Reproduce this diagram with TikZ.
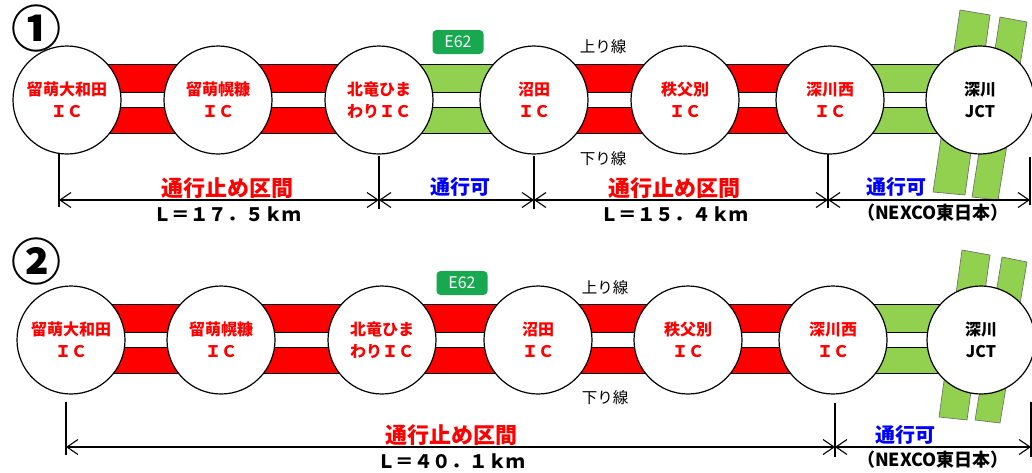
\documentclass[tikz,border=0pt]{standalone}
\usepackage{fontspec}
\setmainfont{Noto Sans CJK JP}
\usetikzlibrary{arrows.meta,calc}
\definecolor{roadred}{RGB}{255,0,0}
\definecolor{roadgreen}{RGB}{146,208,80}
\definecolor{badgegreen}{RGB}{24,168,80}
\definecolor{openblue}{RGB}{0,0,255}
\newcommand\roadband[3]{%
  \draw[line width=0.8pt,fill=#3] ($(#1)+(0,-36)$) rectangle ($(#2)+(0,33)$);
  \draw[line width=0.8pt,fill=white] ($(#1)+(0,-8)$) rectangle ($(#2)+(0,7)$);}
\tikzset{
  ic/.style={circle,draw=black,line width=1.2pt,fill=white,minimum size=108pt,inner sep=0pt,
    align=center,font=\bfseries\fontsize{16}{22}\selectfont,text=roadred},
  jct/.style={ic,text=black},
  jctroad/.style={fill=roadgreen,draw=black!60,line width=0.6pt},
  tickline/.style={line width=1.6pt},
  dimline/.style={line width=1.1pt,{Straight Barb[length=11pt,width=15pt]}-{Straight Barb[length=11pt,width=15pt]}},
  closedlbl/.style={text=roadred,font=\bfseries\fontsize{22}{22}\selectfont,inner sep=0pt},
  openlbl/.style={text=openblue,font=\bfseries\fontsize{20}{20}\selectfont,inner sep=0pt},
  lenlbl/.style={font=\bfseries\fontsize{18.5}{19}\selectfont,inner sep=0pt},
  neximg/.style={font=\bfseries\fontsize{18}{19}\selectfont,inner sep=0pt},
  dirlbl/.style={font=\fontsize{15.5}{16}\selectfont,inner sep=0pt},
  numlbl/.style={font=\bfseries\fontsize{50}{50}\selectfont,inner sep=0pt},
  badgebox/.style={fill=badgegreen,rounded corners=4pt,text=white,font=\fontsize{16}{16}\selectfont,
    minimum width=51pt,minimum height=24pt,inner sep=0pt},
}
\begin{document}
\begin{tikzpicture}[x=1pt,y=-1pt]
\useasboundingbox (0,0) rectangle (1032,472);
% ================= Panel 1 =================
\node[numlbl] (num1) at (36,28) {①};
\coordinate (p11) at (67,100);
\coordinate (p12) at (218,100);
\coordinate (p13) at (379,100);
\coordinate (p14) at (534,100);
\coordinate (p15) at (685,100);
\coordinate (p16) at (830,100);
\coordinate (p17) at (980,100);
\roadband{p11}{p12}{roadred}
\roadband{p12}{p13}{roadred}
\roadband{p13}{p14}{roadgreen}
\roadband{p14}{p15}{roadred}
\roadband{p15}{p16}{roadred}
\roadband{p16}{p17}{roadgreen}
\draw[jctroad] (960,10) -- (990,15) -- (965,195) -- (933,192) -- cycle;
\draw[jctroad] (1000,17) -- (1027,22) -- (998,200) -- (972,197) -- cycle;
\node[ic] (ic11) at (p11) {留萌大和田\\ＩＣ};
\node[ic] (ic12) at (p12) {留萌幌糠\\ＩＣ};
\node[ic] (ic13) at (p13) {北竜ひま\\わりＩＣ};
\node[ic] (ic14) at (p14) {沼田\\ＩＣ};
\node[ic] (ic15) at (p15) {秩父別\\ＩＣ};
\node[ic] (ic16) at (p16) {深川西\\ＩＣ};
\node[jct] (ic17) at (p17) {深川\\JCT};
\node[badgebox] (e62a) at (458,42) {E62};
\node[dirlbl] (up1) at (603,47) {上り線};
\node[dirlbl] (down1) at (603,159) {下り線};
% dimension lines
\draw[tickline] (59,153) -- (59,207);
\draw[tickline] (379,156) -- (379,209);
\draw[tickline] (534,156) -- (534,209);
\draw[tickline] (828,154) -- (828,208);
\draw[tickline] (1030,157) -- (1030,205);
\coordinate (d11) at (59,200);
\coordinate (d12) at (379,200);
\coordinate (d13) at (534,200);
\coordinate (d14) at (828,200);
\coordinate (d15) at (1030,200);
\draw[dimline] (d11) -- (d12);
\draw[dimline] (d12) -- (d13);
\draw[dimline] (d13) -- (d14);
\draw[dimline] (d14) -- (d15);
\node[closedlbl] (s11) at (227,188) {通行止め区間};
\node[lenlbl] (l11) at (227,214) {Ｌ＝１７．５ｋｍ};
\node[openlbl] (s12) at (460,187) {通行可};
\node[closedlbl] (s13) at (674,188) {通行止め区間};
\node[lenlbl] (l13) at (674,214) {Ｌ＝１５．４ｋｍ};
\node[openlbl] (s14) at (896,187) {通行可};
\node[neximg] (l14) at (933,213) {（NEXCO東日本）};
% ================= Panel 2 =================
\node[numlbl] (num2) at (37,261) {②};
\coordinate (p21) at (71,340);
\coordinate (p22) at (221,340);
\coordinate (p23) at (382,340);
\coordinate (p24) at (538,340);
\coordinate (p25) at (688,340);
\coordinate (p26) at (833,340);
\coordinate (p27) at (981,340);
\roadband{p21}{p22}{roadred}
\roadband{p22}{p23}{roadred}
\roadband{p23}{p24}{roadred}
\roadband{p24}{p25}{roadred}
\roadband{p25}{p26}{roadred}
\roadband{p26}{p27}{roadgreen}
\draw[jctroad] (962,250) -- (990,255) -- (967,420) -- (939,417) -- cycle;
\draw[jctroad] (1002,257) -- (1027,262) -- (1000,423) -- (975,420) -- cycle;
\node[ic] (ic21) at (p21) {留萌大和田\\ＩＣ};
\node[ic] (ic22) at (p22) {留萌幌糠\\ＩＣ};
\node[ic] (ic23) at (p23) {北竜ひま\\わりＩＣ};
\node[ic] (ic24) at (p24) {沼田\\ＩＣ};
\node[ic] (ic25) at (p25) {秩父別\\ＩＣ};
\node[ic] (ic26) at (p26) {深川西\\ＩＣ};
\node[jct] (ic27) at (p27) {深川\\JCT};
\node[badgebox] (e62b) at (462,283) {E62};
\node[dirlbl] (up2) at (605,288) {上り線};
\node[dirlbl] (down2) at (605,398) {下り線};
\draw[tickline] (66,402) -- (66,455);
\draw[tickline] (835,403) -- (835,457);
\draw[tickline] (1031,402) -- (1031,457);
\coordinate (d21) at (66,447);
\coordinate (d22) at (835,447);
\coordinate (d23) at (1031,447);
\draw[dimline] (d21) -- (d22);
\draw[dimline] (d22) -- (d23);
\node[closedlbl] (s21) at (451,435) {通行止め区間};
\node[lenlbl] (l21) at (451,461) {Ｌ＝４０．１ｋｍ};
\node[openlbl] (s22) at (905,435) {通行可};
\node[neximg] (l22) at (933,460) {（NEXCO東日本）};
\end{tikzpicture}
\end{document}
